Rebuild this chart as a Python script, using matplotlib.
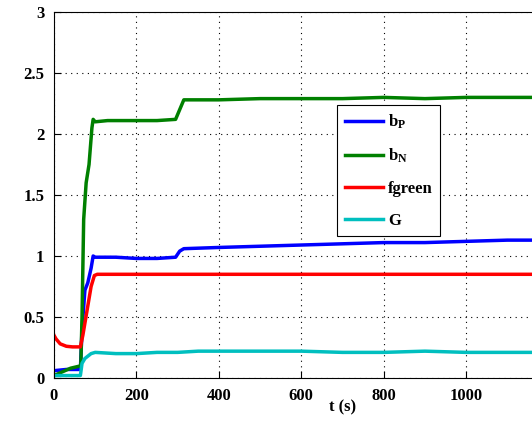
import numpy as np
import matplotlib.pyplot as plt

# values
t_bN = [0, 20, 40, 65, 68, 72, 78, 85, 92, 95, 100, 130, 160, 200, 250, 295, 305, 315, 330, 400, 500, 600, 700, 800, 900, 1000, 1100, 1200]
bN = [0.02, 0.05, 0.08, 0.1, 0.5, 1.3, 1.6, 1.75, 2.05, 2.12, 2.1, 2.11, 2.11, 2.11, 2.11, 2.12, 2.2, 2.28, 2.28, 2.28, 2.29, 2.29, 2.29, 2.30, 2.29, 2.30, 2.30, 2.30]

t_bP = [0, 30, 64, 68, 75, 82, 90, 95, 100, 150, 200, 250, 295, 305, 315, 400, 500, 600, 700, 800, 900, 1000, 1100, 1200]
bP = [0.06, 0.07, 0.07, 0.4, 0.72, 0.78, 0.9, 1.0, 0.99, 0.99, 0.98, 0.98, 0.99, 1.04, 1.06, 1.07, 1.08, 1.09, 1.10, 1.11, 1.11, 1.12, 1.13, 1.13]

t_fg = [0, 5, 15, 30, 45, 64, 70, 80, 90, 98, 105, 200, 400, 600, 800, 1000, 1200]
fgreen = [0.35, 0.32, 0.28, 0.26, 0.255, 0.255, 0.35, 0.55, 0.75, 0.84, 0.85, 0.85, 0.85, 0.85, 0.85, 0.85, 0.85]

t_G = [0, 30, 64, 68, 75, 90, 100, 150, 200, 250, 300, 350, 400, 500, 600, 700, 800, 900, 1000, 1100, 1200]
G = [0.02, 0.02, 0.02, 0.12, 0.16, 0.2, 0.21, 0.2, 0.2, 0.21, 0.21, 0.22, 0.22, 0.22, 0.22, 0.21, 0.21, 0.22, 0.21, 0.21, 0.21]

series = [
    (t_bP, bP, '#0000ff', r'b$_\mathbf{P}$'),
    (t_bN, bN, '#008000', r'b$_\mathbf{N}$'),
    (t_fg, fgreen, '#ff0000', 'fgreen'),
    (t_G, G, '#00bfbf', 'G'),
]

plt.rcParams['font.family'] = 'Liberation Serif'
plt.rcParams['font.weight'] = 'bold'
plt.rcParams['mathtext.fontset'] = 'custom'
plt.rcParams['mathtext.bf'] = 'Liberation Serif:bold'
plt.rcParams['mathtext.rm'] = 'Liberation Serif:bold'
plt.rcParams['mathtext.default'] = 'bf'

fig = plt.figure(figsize=(5.32, 4.21), dpi=100)
# axes runs past the right edge of the figure, as in the reference
ax = fig.add_axes([54 / 532, 43 / 421, 577 / 532, 366 / 421])

for t, y, c, lab in series:
    ax.plot(t, y, color=c, lw=2.5, label=lab)

ax.set_xlim(0, 1400)
ax.set_ylim(0, 3)
ax.set_xticks(np.arange(0, 1001, 200))
ax.set_yticks(np.arange(0, 3.01, 0.5))
ax.set_yticklabels(['0', '0.5', '1', '1.5', '2', '2.5', '3'])
ax.tick_params(direction='in', labelsize=12, length=5, pad=7)
for lbl in ax.get_xticklabels() + ax.get_yticklabels():
    lbl.set_fontweight('bold')
ax.grid(True, color='black', linestyle=(0, (1, 4)), lw=0.8)
ax.set_xlabel('t (s)', fontsize=12, fontweight='bold', labelpad=-3)
for s in ax.spines.values():
    s.set_linewidth(0.8)

leg = ax.legend(loc='upper left', bbox_to_anchor=(337 / 532, 1 - 105 / 421),
                bbox_transform=fig.transFigure, borderaxespad=0,
                fancybox=False, edgecolor='black', framealpha=1,
                handlelength=2.3, handletextpad=0.3, labelspacing=0.95,
                borderpad=0.45,
                prop={'family': 'Liberation Serif', 'weight': 'bold', 'size': 12})
leg.get_frame().set_linewidth(0.8)

fig.savefig('out.png', dpi=100)
